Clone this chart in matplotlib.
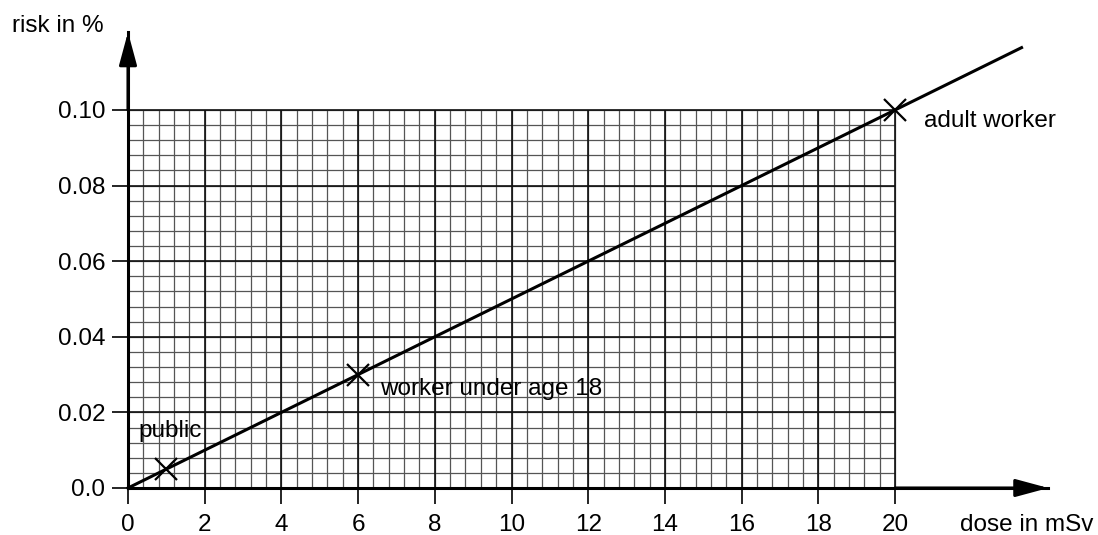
import numpy as np
import matplotlib.pyplot as plt

plt.rcParams['font.family'] = ['Liberation Sans', 'DejaVu Sans']

# risk line: 0.005 % per mSv
line_dose = [0, 23.3]
line_risk = [0, 0.1165]

# marked points
point_dose = [1, 6, 20]
point_risk = [0.005, 0.03, 0.10]
point_labels = ['public', 'worker under age 18', 'adult worker']

x_ticks = list(range(0, 21, 2))
y_ticks = [0.0, 0.02, 0.04, 0.06, 0.08, 0.10]
y_tick_labels = ['0.0', '0.02', '0.04', '0.06', '0.08', '0.10']

W, H = 1098, 535
fs = 17.5
fig = plt.figure(figsize=(W / 100, H / 100), dpi=100)
x0, y0 = 128, 488
px_x = 38.35          # pixels per mSv
px_y = 3780           # pixels per 1 % risk
xmax, ymax = 24.0, 0.1206
ax = fig.add_axes([x0 / W, (H - y0) / H, xmax * px_x / W, ymax * px_y / H])
ax.set_xlim(0, xmax)
ax.set_ylim(0, ymax)

# graph paper grid
minor_x = np.arange(0, 20.01, 0.4)
minor_y = np.arange(0, 0.10001, 0.004)
ax.vlines(minor_x, 0, 0.10, color='#555555', lw=0.9, zorder=1)
ax.hlines(minor_y, 0, 20, color='#555555', lw=0.9, zorder=1)
ax.vlines(x_ticks, 0, 0.10, color='#111111', lw=1.2, zorder=1)
ax.hlines(y_ticks, 0, 20, color='#111111', lw=1.2, zorder=1)

ax.plot(line_dose, line_risk, color='black', lw=2.2, zorder=3, clip_on=False)
ax.plot(point_dose, point_risk, 'x', color='black', ms=16, mew=1.6, zorder=4)

ax.text(0.28, 0.0135, point_labels[0], fontsize=fs, va='baseline')
ax.text(6.57, 0.0246, point_labels[1], fontsize=fs, va='baseline')
ax.text(20.76, 0.0956, point_labels[2], fontsize=fs, va='baseline')

for s in ['top', 'right']:
    ax.spines[s].set_visible(False)
for s in ['left', 'bottom']:
    ax.spines[s].set_linewidth(2.2)

ax.set_xticks(x_ticks)
ax.set_yticks(y_ticks)
ax.set_yticklabels(y_tick_labels)
ax.tick_params(axis='both', length=11.5, width=1.2, labelsize=fs)
ax.tick_params(axis='x', pad=7)
ax.tick_params(axis='y', pad=5)

# arrow heads
arrow = dict(arrowstyle='-|>,head_length=1.0,head_width=0.27', color='black',
             lw=2.2, mutation_scale=20, shrinkA=0, shrinkB=0)
ax.annotate('', xy=(0, ymax), xytext=(0, 0.10), arrowprops=arrow, annotation_clip=False)
ax.annotate('', xy=(xmax, 0), xytext=(20, 0), arrowprops=arrow, annotation_clip=False)

fig.text(12 / W, 1 - 32 / H, 'risk in %', fontsize=fs, va='baseline')
fig.text(960 / W, 1 - 531 / H, 'dose in mSv', fontsize=fs, va='baseline')

fig.savefig('out.png', dpi=100)
